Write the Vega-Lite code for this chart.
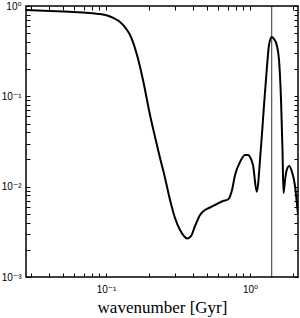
{
  "$schema": "https://vega.github.io/schema/vega-lite/v6.json",
  "width": 272,
  "height": 271,
  "autosize": "none",
  "padding": {"left": 26, "top": 6, "right": 2, "bottom": 41},
  "background": "white",
  "config": {
    "view": {"stroke": "black", "strokeWidth": 1.5},
    "axis": {"grid": false, "domain": false, "tickColor": "black", "tickSize": -4, "tickWidth": 1, "labelFont": "Liberation Sans, DejaVu Sans", "labelFontSize": 10, "labelColor": "black"}
  },
  "datasets": {
    "curve": [
      {"k": 0.0278, "p": 0.903},
      {"k": 0.0408, "p": 0.880},
      {"k": 0.0562, "p": 0.863},
      {"k": 0.0692, "p": 0.848},
      {"k": 0.0839, "p": 0.826},
      {"k": 0.0908, "p": 0.815},
      {"k": 0.1066, "p": 0.765},
      {"k": 0.1193, "p": 0.700},
      {"k": 0.1251, "p": 0.665},
      {"k": 0.1399, "p": 0.542},
      {"k": 0.1468, "p": 0.4775},
      {"k": 0.1641, "p": 0.2868},
      {"k": 0.1806, "p": 0.1517},
      {"k": 0.2020, "p": 0.0621},
      {"k": 0.2189, "p": 0.0355},
      {"k": 0.2371, "p": 0.0208},
      {"k": 0.2568, "p": 0.01247},
      {"k": 0.2783, "p": 0.00712},
      {"k": 0.3013, "p": 0.0045},
      {"k": 0.3265, "p": 0.00331},
      {"k": 0.3481, "p": 0.00284},
      {"k": 0.3652, "p": 0.00267},
      {"k": 0.3892, "p": 0.00284},
      {"k": 0.4150, "p": 0.00367},
      {"k": 0.4496, "p": 0.00486},
      {"k": 0.4870, "p": 0.00552},
      {"k": 0.5275, "p": 0.00588},
      {"k": 0.5900, "p": 0.00643},
      {"k": 0.6494, "p": 0.00694},
      {"k": 0.7035, "p": 0.00721},
      {"k": 0.7499, "p": 0.00918},
      {"k": 0.7868, "p": 0.01346},
      {"k": 0.8523, "p": 0.01875},
      {"k": 0.9232, "p": 0.02241},
      {"k": 0.9685, "p": 0.02241},
      {"k": 1.0, "p": 0.0213},
      {"k": 1.049, "p": 0.01737},
      {"k": 1.113, "p": 0.0088},
      {"k": 1.136, "p": 0.01043},
      {"k": 1.173, "p": 0.01973},
      {"k": 1.212, "p": 0.03926},
      {"k": 1.251, "p": 0.08017},
      {"k": 1.306, "p": 0.1956},
      {"k": 1.355, "p": 0.3701},
      {"k": 1.415, "p": 0.4537},
      {"k": 1.468, "p": 0.4311},
      {"k": 1.532, "p": 0.3701},
      {"k": 1.590, "p": 0.2525},
      {"k": 1.642, "p": 0.0911},
      {"k": 1.681, "p": 0.02545},
      {"k": 1.708, "p": 0.0085},
      {"k": 1.750, "p": 0.01185},
      {"k": 1.798, "p": 0.01529},
      {"k": 1.875, "p": 0.01694},
      {"k": 1.957, "p": 0.01453},
      {"k": 2.054, "p": 0.01017},
      {"k": 2.121, "p": 0.00627},
      {"k": 2.154, "p": 0.00498}
    ],
    "marker": [{"k": 1.415}]
  },
  "resolve": {"axis": {"x": "independent", "y": "independent"}},
  "layer": [
    {
      "data": {"name": "curve"},
      "mark": {"type": "line", "color": "black", "strokeWidth": 2, "interpolate": "monotone", "clip": true},
      "encoding": {
        "x": {
          "field": "k", "type": "quantitative",
          "scale": {"type": "log", "domain": [0.0278, 2.154], "nice": false},
          "axis": {
            "values": [0.03, 0.04, 0.05, 0.06, 0.07, 0.08, 0.09, 0.1, 0.2, 0.3, 0.4, 0.5, 0.6, 0.7, 0.8, 0.9, 1, 2],
            "labelExpr": "datum.value == 0.1 ? '10⁻¹' : (datum.value == 1 ? '10⁰' : '')",
            "labelPadding": 11,
            "title": "wavenumber [Gyr]",
            "titleFont": "Liberation Serif",
            "titleFontSize": 17,
            "titleFontWeight": "normal",
            "titleColor": "black",
            "titlePadding": 5
          }
        },
        "y": {
          "field": "p", "type": "quantitative",
          "scale": {"type": "log", "domain": [0.001, 1], "nice": false},
          "axis": {
            "values": [0.001, 0.002, 0.003, 0.004, 0.005, 0.006, 0.007, 0.008, 0.009, 0.01, 0.02, 0.03, 0.04, 0.05, 0.06, 0.07, 0.08, 0.09, 0.1, 0.2, 0.3, 0.4, 0.5, 0.6, 0.7, 0.8, 0.9, 1],
            "labelExpr": "datum.value == 1 ? '10⁰' : (datum.value == 0.1 ? '10⁻¹' : (datum.value == 0.01 ? '10⁻²' : (datum.value == 0.001 ? '10⁻³' : '')))",
            "labelPadding": 9,
            "title": null
          }
        }
      }
    },
    {
      "data": {"name": "curve"},
      "mark": {"type": "line", "opacity": 0, "clip": true},
      "encoding": {
        "x": {
          "field": "k", "type": "quantitative",
          "axis": {
            "orient": "top",
            "values": [0.03, 0.04, 0.05, 0.06, 0.07, 0.08, 0.09, 0.1, 0.2, 0.3, 0.4, 0.5, 0.6, 0.7, 0.8, 0.9, 1, 2],
            "labels": false,
            "title": null
          }
        },
        "y": {
          "field": "p", "type": "quantitative",
          "axis": {
            "orient": "right",
            "values": [0.001, 0.002, 0.003, 0.004, 0.005, 0.006, 0.007, 0.008, 0.009, 0.01, 0.02, 0.03, 0.04, 0.05, 0.06, 0.07, 0.08, 0.09, 0.1, 0.2, 0.3, 0.4, 0.5, 0.6, 0.7, 0.8, 0.9, 1],
            "labels": false,
            "title": null
          }
        }
      }
    },
    {
      "data": {"name": "marker"},
      "mark": {"type": "rule", "color": "black", "strokeWidth": 0.8},
      "encoding": {
        "x": {"field": "k", "type": "quantitative", "axis": null}
      }
    }
  ]
}
